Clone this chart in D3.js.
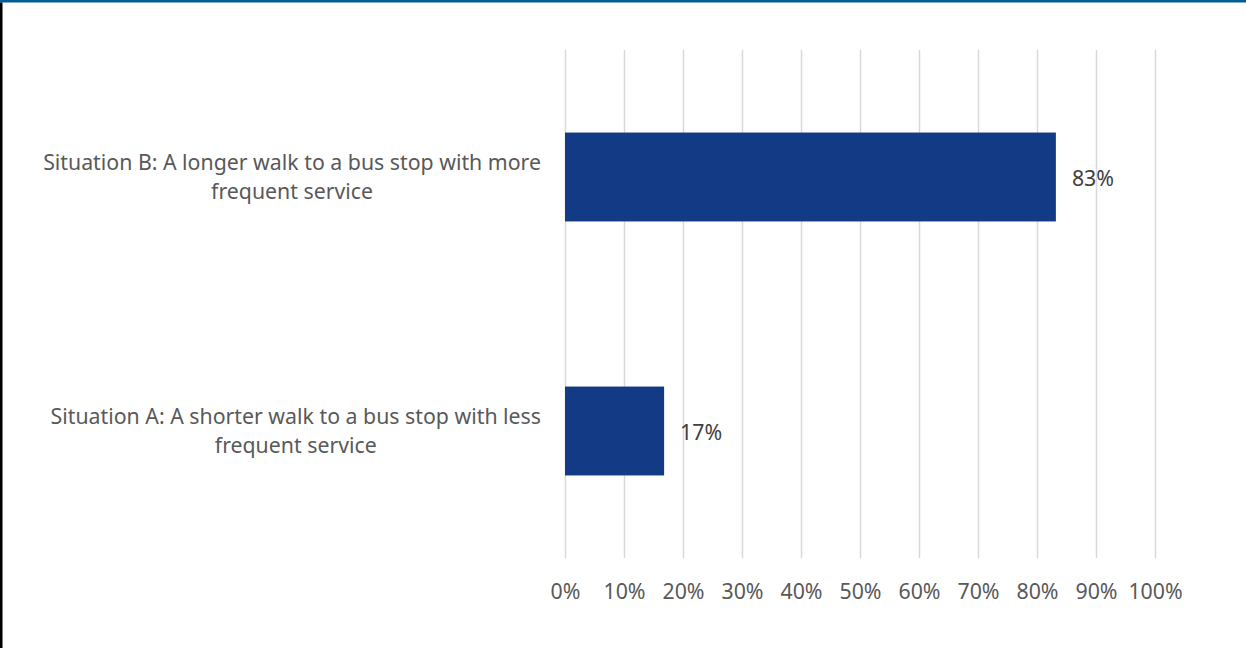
<!DOCTYPE html>
<html><head><meta charset="utf-8">
<script src="https://cdn.jsdelivr.net/npm/d3@7"></script>
<style>
html,body{margin:0;padding:0;background:#fff;}
svg{display:block;}
text{font-family:"Source Sans Pro","Noto Sans",sans-serif;}
</style></head>
<body>
<svg id="chart" width="1246" height="648"></svg>
<script>
const categories = [
  ["Situation B: A longer walk to a bus stop with more", "frequent service"],
  ["Situation A: A shorter walk to a bus stop with less", "frequent service"]
];
const values = [83.2, 16.8];
const valueLabels = ["83%", "17%"];
const tickValues = [0,10,20,30,40,50,60,70,80,90,100];
const tickLabels = ["0%","10%","20%","30%","40%","50%","60%","70%","80%","90%","100%"];

const svg = d3.select("#chart");
const W = 1246, H = 648;
const plot = {left:565, right:1155, top:50, bottom:558};
const FS = 21.3;

// frame
svg.append("rect").attr("x",0).attr("y",0).attr("width",W).attr("height",H).attr("fill","#fff");
svg.append("rect").attr("x",0).attr("y",0).attr("width",W).attr("height",2.5).attr("fill","#005f96");
svg.append("rect").attr("x",0).attr("y",2.5).attr("width",2.5).attr("height",H).attr("fill","#000");

const x = d3.scaleLinear().domain([0,100]).range([plot.left, plot.right]);
const y = d3.scaleBand().domain(d3.range(categories.length)).range([plot.top, plot.bottom]).paddingInner(0.65).paddingOuter(0.325);

// gridlines
svg.append("g").selectAll("line").data(tickValues).join("line")
  .attr("x1", d=>x(d)+0.5).attr("x2", d=>x(d)+0.5)
  .attr("y1", plot.top).attr("y2", plot.bottom)
  .attr("stroke","#d9d9d9").attr("stroke-width",1.5);

// bars
svg.append("g").selectAll("rect").data(values).join("rect")
  .attr("x", x(0)).attr("y",(d,i)=>y(i))
  .attr("width", d=>x(d)-x(0)).attr("height", y.bandwidth())
  .attr("fill","#133a84");

// value labels
svg.append("g").selectAll("text").data(values).join("text")
  .attr("x", d=>x(d)+16).attr("y",(d,i)=>y(i)+y.bandwidth()/2+2)
  .attr("dy","0.35em")
  .attr("font-size",FS).attr("fill","#404040")
  .text((d,i)=>valueLabels[i]);

// x axis tick labels
const xAxis = d3.axisBottom(x).tickValues(tickValues).tickSize(0).tickPadding(0)
  .tickFormat((d,i)=>tickLabels[i]);
const gx = svg.append("g").attr("transform",`translate(0,${plot.bottom+41})`).call(xAxis);
gx.select(".domain").remove();
gx.selectAll("text").attr("font-size",FS).attr("fill","#595959")
  .attr("font-family",'"Source Sans Pro","Noto Sans",sans-serif').attr("dy","0");

// category labels
const labelRight = 541;
categories.forEach((lines,i)=>{
  const cy = y(i)+y.bandwidth()/2;
  const g = svg.append("g");
  const t1 = g.append("text").attr("x",labelRight).attr("y",cy-14).attr("dy","0.35em")
    .attr("text-anchor","end").attr("font-size",FS).attr("fill","#595959").text(lines[0]);
  const w = t1.node().getComputedTextLength();
  const mid = labelRight - w/2;
  g.append("text").attr("x",mid).attr("y",cy+15).attr("dy","0.35em")
    .attr("text-anchor","middle").attr("font-size",FS).attr("fill","#595959").text(lines[1]);
});
</script>
</body></html>
